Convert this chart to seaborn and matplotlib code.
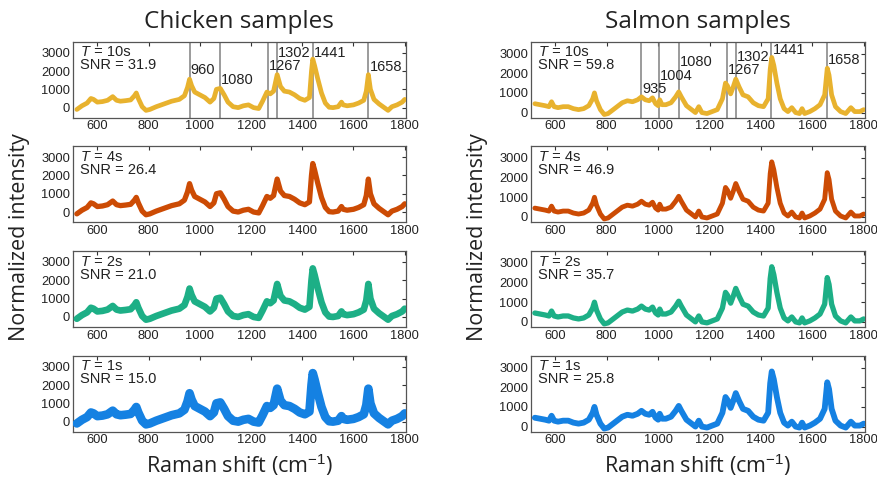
import matplotlib
matplotlib.use("Agg")
import matplotlib.pyplot as plt
import matplotlib.transforms as mtransforms
import seaborn as sns
import pandas as pd

# ---------------- data ----------------
chicken_x = [520, 540, 560, 575, 585, 600, 620, 640, 660, 675, 690, 710, 730, 745, 752, 760,
             775, 790, 805, 830, 860, 890, 920, 940, 952, 960, 968, 980, 1000, 1020, 1040,
             1055, 1065, 1080, 1095, 1110, 1130, 1150, 1170, 1190, 1210, 1230, 1245, 1262,
             1275, 1288, 1302, 1315, 1330, 1350, 1370, 1390, 1410, 1428, 1436, 1441, 1448,
             1460, 1475, 1490, 1505, 1520, 1540, 1553, 1560, 1575, 1600, 1620, 1640, 1650,
             1658, 1666, 1680, 1700, 1720, 1735, 1750, 1770, 1790, 1800]
chicken_y = [-100, 100, 250, 500, 450, 300, 330, 400, 600, 400, 350, 380, 420, 650, 800, 500,
             50, -150, -100, 50, 200, 350, 450, 650, 1100, 1550, 1200, 850, 700, 550, 300,
             500, 1000, 1050, 700, 300, 50, 0, 100, 150, 0, -50, 350, 850,
             750, 900, 1800, 1150, 900, 850, 700, 500, 400, 550, 2000, 2650, 2300,
             1600, 800, 250, 20, 0, 50, 300, 150, 100, 150, 250, 400, 900,
             1800, 1000, 450, 200, 0, -150, 50, 150, 300, 450]

salmon_x = [520, 540, 560, 575, 585, 595, 610, 630, 650, 670, 690, 710, 730, 745, 752, 760,
            775, 790, 805, 830, 860, 880, 900, 920, 935, 950, 965, 978, 990, 1000, 1006,
            1015, 1030, 1050, 1068, 1080, 1090, 1110, 1130, 1145, 1158, 1170, 1190, 1210,
            1230, 1250, 1262, 1270, 1282, 1292, 1302, 1315, 1330, 1350, 1370, 1390, 1410,
            1428, 1436, 1442, 1450, 1462, 1475, 1490, 1505, 1520, 1535, 1550, 1560, 1570,
            1590, 1610, 1630, 1648, 1658, 1665, 1675, 1690, 1710, 1730, 1750, 1765, 1785, 1800]
salmon_y = [450, 400, 350, 300, 550, 300, 250, 300, 300, 200, 150, 200, 350, 700, 1000, 600,
            150, -100, -50, 200, 500, 600, 550, 650, 800, 650, 600, 750, 450, 350, 650,
            400, 400, 500, 800, 1050, 800, 350, 150, 0, 300, 0, -50, 50,
            150, 700, 1500, 1350, 950, 1300, 1700, 1300, 900, 800, 500, 350, 300,
            700, 2200, 2800, 2400, 1500, 700, 200, 50, 250, 0, -50, 200, -50,
            50, 200, 400, 900, 2250, 1900, 900, 300, 50, -50, 250, 50, 50, 150]

times = ["10s", "4s", "2s", "1s"]
chicken_snr = ["31.9", "26.4", "21.0", "15.0"]
salmon_snr = ["59.8", "46.9", "35.7", "25.8"]

chicken_peaks = [960, 1080, 1267, 1302, 1441, 1658]
chicken_label_y = [2080, 1490, 2300, 2980, 2980, 2215]
salmon_peaks = [935, 1004, 1080, 1267, 1302, 1441, 1658]
salmon_label_y = [1220, 1840, 2570, 2150, 2820, 3160, 2650]

colors = ["#E8B22E", "#CC4B04", "#1DAF86", "#1581E2"]
chicken_lw = [3.4, 3.8, 4.8, 6.2]
salmon_lw = [3.4, 3.5, 3.8, 4.2]

# ---------------- style ----------------
sns.set_style("white")
plt.rcParams["font.family"] = ["Liberation Sans", "DejaVu Sans"]
plt.rcParams["mathtext.fontset"] = "custom"
plt.rcParams["mathtext.it"] = "Liberation Sans:italic"
plt.rcParams["mathtext.rm"] = "Liberation Sans"
label_font = ["Open Sans", "DejaVu Sans"]

W, H = 877, 479
fig = plt.figure(figsize=(W / 100, H / 100), dpi=100)

row_tops = [41.7, 146.1, 251.0, 355.7]
row_h = 76.0
cols = [(73.0, 332.5), (531.0, 333.5)]

chicken = pd.DataFrame({"x": chicken_x, "y": chicken_y})
salmon = pd.DataFrame({"x": salmon_x, "y": salmon_y})

datasets = [
    (chicken, chicken_snr, chicken_peaks, chicken_label_y, chicken_lw, (-550, 3600)),
    (salmon, salmon_snr, salmon_peaks, salmon_label_y, salmon_lw, (-260, 3600)),
]

for ci, (df, snrs, peaks, ly, lws, ylim) in enumerate(datasets):
    left, width = cols[ci]
    for ri in range(4):
        top = row_tops[ri]
        ax = fig.add_axes([left / W, 1 - (top + row_h) / H, width / W, row_h / H])
        if ri == 0:
            for p in peaks:
                ax.axvline(p, color="#808080", lw=1.1, zorder=1)
        sns.lineplot(data=df, x="x", y="y", ax=ax, color=colors[ri], lw=lws[ri],
                     zorder=3, solid_joinstyle="round", solid_capstyle="round")
        if ri == 0:
            for p, yv in zip(peaks, ly):
                ax.text(p + 4, yv, str(p), fontsize=10.5, va="center", ha="left",
                        color="#222222", zorder=4)
        ax.set_xlim(505, 1803)
        ax.set_ylim(*ylim)
        ax.set_xticks([600, 800, 1000, 1200, 1400, 1600, 1800])
        ax.set_yticks([0, 1000, 2000, 3000])
        ax.tick_params(direction="in", length=3, width=0.8, labelsize=9.3,
                       top=True, right=True, colors="#333333", labelcolor="#222222", pad=2)
        ax.set_xlabel("")
        ax.set_ylabel("")
        for s in ax.spines.values():
            s.set_color("#555555")
            s.set_linewidth(0.9)
        ax.text(0.022, 0.95, "T", style="italic",
                transform=ax.transAxes, fontsize=10.5, va="top", ha="left",
                color="#222222", zorder=5)
        tr = mtransforms.offset_copy(ax.transAxes, fig=fig, x=6.7, y=0, units="points")
        ax.text(0.022, 0.95, " = %s" % times[ri],
                transform=tr, fontsize=10.5, va="top", ha="left",
                color="#222222", zorder=5)
        ax.text(0.022, 0.78, "SNR = %s" % snrs[ri],
                transform=ax.transAxes, fontsize=10.5, va="top", ha="left",
                color="#222222", zorder=5)

    cx = (left + width / 2) / W
    fig.text(cx, 1 - 22 / H, ["Chicken samples", "Salmon samples"][ci],
             fontsize=17.5, ha="center", va="center", family=label_font, color="#222222")
    fig.text(cx, 1 - 465 / H, "Raman shift (cm$^{-1}$)", fontsize=15.5, ha="center",
             va="center", family=label_font, color="#222222")
    fig.text([20 / W, 477 / W][ci], 1 - 237 / H, "Normalized intensity", fontsize=15.5,
             rotation=90, ha="center", va="center", family=label_font, color="#222222")

fig.savefig("out.png", dpi=100)
